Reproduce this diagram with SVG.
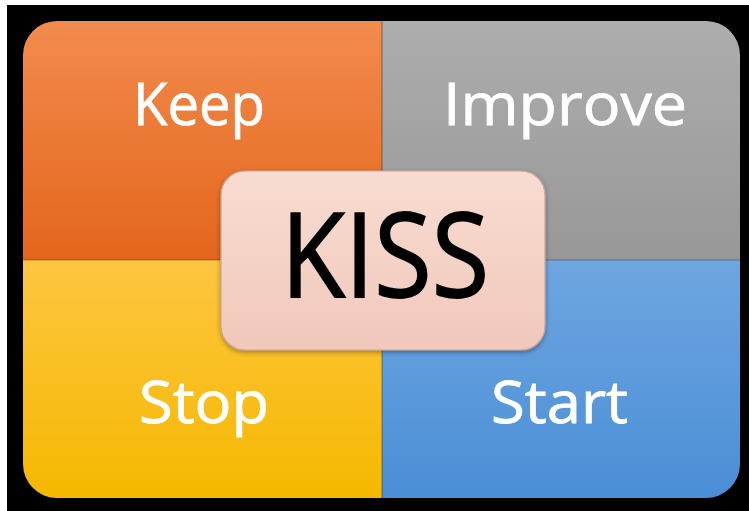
<svg xmlns="http://www.w3.org/2000/svg" width="749" height="511" viewBox="0 0 749 511">
  <defs>
    <linearGradient id="gOrange" x1="0" y1="0" x2="0" y2="1">
      <stop offset="0" stop-color="#f28b4e"/>
      <stop offset="1" stop-color="#e4661c"/>
    </linearGradient>
    <linearGradient id="gGray" x1="0" y1="0" x2="0" y2="1">
      <stop offset="0" stop-color="#adadad"/>
      <stop offset="1" stop-color="#989898"/>
    </linearGradient>
    <linearGradient id="gYellow" x1="0" y1="0" x2="0" y2="1">
      <stop offset="0" stop-color="#fdc640"/>
      <stop offset="1" stop-color="#f5b800"/>
    </linearGradient>
    <linearGradient id="gBlue" x1="0" y1="0" x2="0" y2="1">
      <stop offset="0" stop-color="#6ea6e0"/>
      <stop offset="1" stop-color="#4a8ed6"/>
    </linearGradient>
    <linearGradient id="gPink" x1="0" y1="0" x2="0" y2="1">
      <stop offset="0" stop-color="#f8dcd1"/>
      <stop offset="1" stop-color="#f1c8bb"/>
    </linearGradient>
    <clipPath id="outer">
      <rect x="23" y="21" width="717" height="477" rx="34" ry="34"/>
    </clipPath>
    <filter id="shadow" x="-10%" y="-10%" width="120%" height="130%">
      <feDropShadow dx="0" dy="2" stdDeviation="2.5" flood-color="#000" flood-opacity="0.35"/>
    </filter>
  </defs>
  <style>
    .lbl { font-family: "Open Sans", "Noto Sans", "Liberation Sans", sans-serif; fill: #ffffff; stroke: #ffffff; stroke-width: 0.8px; font-size: 58px; }
    .kiss { font-family: "Open Sans", "Noto Sans", "Liberation Sans", sans-serif; fill: #000000; stroke: #000000; stroke-width: 1.8px; font-size: 118px; }
  </style>
  <rect x="0" y="0" width="749" height="511" fill="#000000"/>
  <rect x="0" y="0" width="749" height="5" fill="#ffffff"/>
  <rect x="0" y="0" width="7" height="511" fill="#ffffff"/>

  <g clip-path="url(#outer)">
    <g id="keep">
      <rect x="23" y="21" width="359" height="239" fill="url(#gOrange)"/>
      <text class="lbl" x="133" y="125" textLength="132" lengthAdjust="spacingAndGlyphs">Keep</text>
    </g>
    <g id="improve">
      <rect x="382" y="21" width="358" height="239" fill="url(#gGray)"/>
      <text class="lbl" x="443" y="125" textLength="244" lengthAdjust="spacingAndGlyphs">Improve</text>
    </g>
    <g id="stop">
      <rect x="23" y="260" width="359" height="238" fill="url(#gYellow)"/>
      <text class="lbl" x="139" y="423" textLength="130" lengthAdjust="spacingAndGlyphs">Stop</text>
    </g>
    <g id="start">
      <rect x="382" y="260" width="358" height="238" fill="url(#gBlue)"/>
      <text class="lbl" x="491" y="423" textLength="137" lengthAdjust="spacingAndGlyphs">Start</text>
    </g>
    <g id="dividers">
      <line x1="382" y1="21" x2="382" y2="498" stroke="#000" stroke-opacity="0.25" stroke-width="1.5"/>
      <line x1="23" y1="260" x2="740" y2="260" stroke="#000" stroke-opacity="0.2" stroke-width="1.5"/>
    </g>
  </g>

  <g id="kiss">
    <rect x="221" y="171" width="324" height="179" rx="24" ry="24" fill="url(#gPink)" stroke="#c9a69a" stroke-width="1.2" filter="url(#shadow)"/>
    <text class="kiss" x="281" y="297" textLength="208" lengthAdjust="spacingAndGlyphs">KISS</text>
  </g>
</svg>
